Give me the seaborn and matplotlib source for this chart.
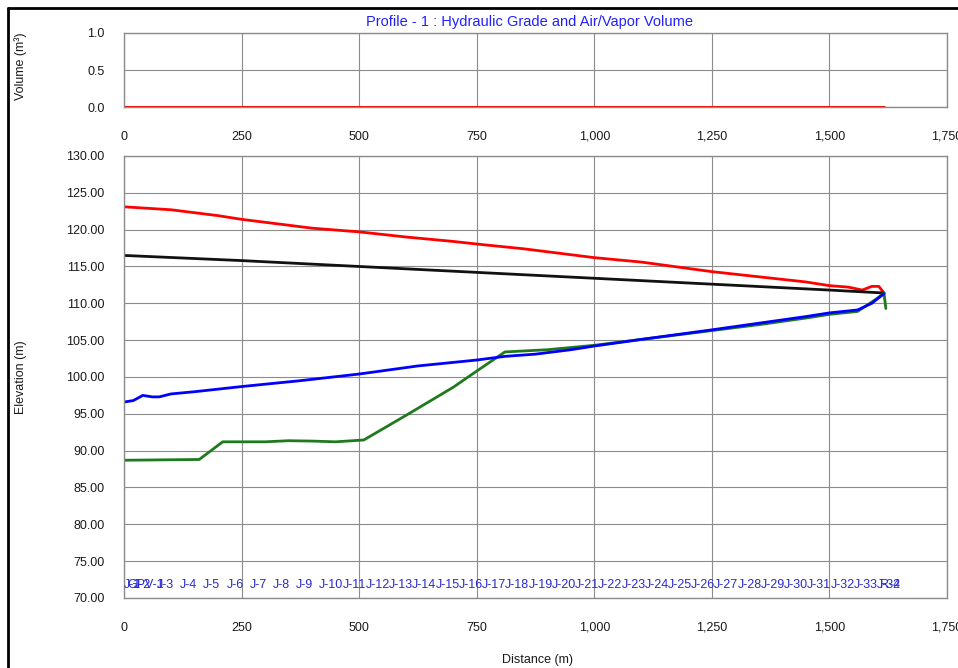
import matplotlib
matplotlib.use("Agg")
import matplotlib.pyplot as plt
import matplotlib.ticker as mticker
from matplotlib.lines import Line2D
import pandas as pd
import seaborn as sns

# dados
dist_hgl_max = [0, 50, 100, 150, 200, 250, 350, 400, 500, 600, 700, 750, 850, 1000,
                1100, 1250, 1350, 1450, 1500, 1540, 1570, 1590, 1605, 1616]
hgl_max = [123.1, 122.9, 122.7, 122.3, 121.9, 121.4, 120.6, 120.2, 119.7, 119.0, 118.4,
           118.05, 117.4, 116.2, 115.6, 114.3, 113.6, 112.9, 112.4, 112.2, 111.8, 112.3,
           112.3, 111.4]

dist_hgl = [0, 250, 500, 750, 1000, 1250, 1500, 1616]
hgl = [116.5, 115.8, 115.0, 114.2, 113.4, 112.6, 111.8, 111.4]

dist_hgl_min = [0, 20, 40, 60, 75, 100, 150, 250, 375, 500, 625, 750, 810, 875, 950,
                1000, 1100, 1250, 1350, 1450, 1500, 1560, 1590, 1616]
hgl_min = [96.6, 96.8, 97.5, 97.3, 97.3, 97.7, 98.0, 98.7, 99.5, 100.4, 101.5, 102.3,
           102.8, 103.1, 103.7, 104.2, 105.1, 106.4, 107.3, 108.2, 108.7, 109.1, 110.0,
           111.3]

dist_terreno = [0, 160, 210, 300, 350, 400, 450, 510, 600, 700, 750, 810, 900, 1000,
                1100, 1250, 1350, 1450, 1500, 1560, 1600, 1616, 1620]
terreno = [88.7, 88.8, 91.2, 91.2, 91.35, 91.3, 91.2, 91.45, 94.8, 98.6, 100.8, 103.4,
           103.7, 104.3, 105.1, 106.3, 107.1, 108.0, 108.5, 108.9, 110.6, 111.4, 109.3]

dist_volume = [0, 1616]
volume = [0.0, 0.0]

nos = ["J-1", "GPV-1", "J-2", "J-3"] + [f"J-{n}" for n in range(4, 34)] + ["J-34", "R-2"]
dist_nos = [0, 8, 22, 70] + [119 + (n - 4) * 49.4 for n in range(4, 34)] + [1600, 1608]

sns.set_style("white")
plt.rcParams["font.family"] = ["Liberation Sans", "DejaVu Sans"]

cor_texto = "#1a1a1a"
cor_grade = "#8c8c8c"

fig = plt.figure(figsize=(9.58, 6.68), dpi=100)
ax1 = fig.add_axes([0.1294, 0.8398, 0.8591, 0.1108])
ax2 = fig.add_axes([0.1294, 0.1048, 0.8591, 0.6617])

# grafico de volume
df_vol = pd.DataFrame({"dist": dist_volume, "vol": volume})
sns.lineplot(data=df_vol, x="dist", y="vol", color="#ff0000", linewidth=2.2, ax=ax1,
             estimator=None)
ax1.set_xlim(0, 1750)
ax1.set_ylim(0, 1.0)
ax1.set_yticks([0, 0.5, 1.0])
ax1.yaxis.set_major_formatter(mticker.FormatStrFormatter("%.1f"))
ax1.set_ylabel("Volume (m³)", fontsize=9, color=cor_texto)
ax1.yaxis.set_label_coords(-0.118, 0.55)
ax1.set_xlabel("")

# grafico de elevacao
series = [
    (dist_hgl_max, hgl_max, "#ff0000"),
    (dist_hgl, hgl, "#111111"),
    (dist_terreno, terreno, "#1f7a1f"),
    (dist_hgl_min, hgl_min, "#0000ff"),
]
for dx, dy, cor in series:
    tabela = pd.DataFrame({"dist": dx, "elev": dy})
    sns.lineplot(data=tabela, x="dist", y="elev", color=cor, linewidth=2.0, ax=ax2,
                 estimator=None, sort=False)
ax2.set_xlim(0, 1750)
ax2.set_ylim(70, 130)
ax2.set_yticks(range(70, 131, 5))
ax2.yaxis.set_major_formatter(mticker.FormatStrFormatter("%.2f"))
ax2.set_ylabel("Elevation (m)", fontsize=9, color=cor_texto)
ax2.yaxis.set_label_coords(-0.118, 0.5)
ax2.set_xlabel("")

for nome, d in zip(nos, dist_nos):
    ax2.text(d, 71.0, nome, color="#2a2ad0", fontsize=9, ha="left", va="bottom")

for ax in [ax1, ax2]:
    ax.set_xticks(range(0, 1751, 250))
    ax.xaxis.set_major_formatter(mticker.FuncFormatter(lambda v, p: f"{int(v):,}"))
    ax.grid(True, color=cor_grade, linewidth=0.8)
    ax.tick_params(axis="both", length=0, labelsize=9, labelcolor=cor_texto)
    ax.tick_params(axis="x", pad=17)
    ax.tick_params(axis="y", pad=14)
    for s in ax.spines.values():
        s.set_color(cor_grade)
        s.set_linewidth(1.0)

fig.text(0.553, 0.967, "Profile - 1 : Hydraulic Grade and Air/Vapor Volume",
         color="#2020ff", fontsize=10.5, ha="center", va="center")
fig.text(0.561, 0.012, "Distance (m)", color=cor_texto, fontsize=9, ha="center",
         va="center")

# moldura da janela
fig.add_artist(Line2D([8 / 958, 8 / 958], [0, 1 - 8 / 668], color="black", linewidth=2,
                      transform=fig.transFigure))
fig.add_artist(Line2D([8 / 958, 1], [1 - 8 / 668, 1 - 8 / 668], color="black", linewidth=2,
                      transform=fig.transFigure))

plt.savefig("out.png", dpi=100, facecolor="white")
